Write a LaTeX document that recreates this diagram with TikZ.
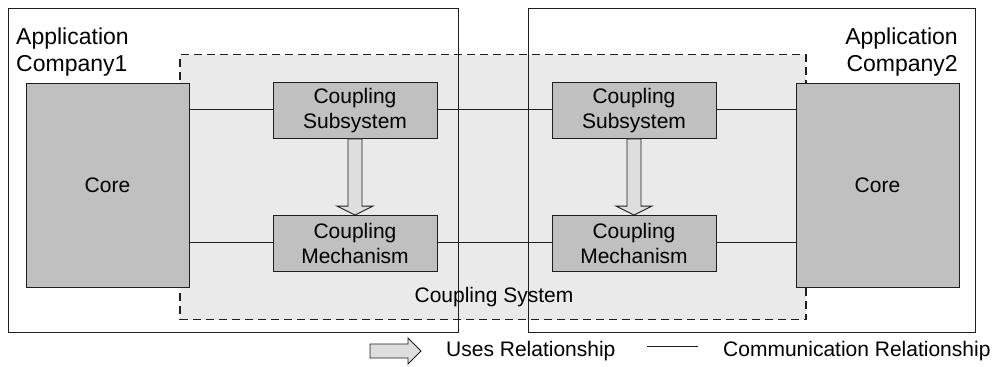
\documentclass[tikz,border=0pt]{standalone}
\usepackage{fontspec}
\setmainfont{Liberation Sans}
\usetikzlibrary{calc}
\definecolor{coregray}{RGB}{192,192,192}
\definecolor{sysgray}{RGB}{234,234,234}
\definecolor{arrgray}{RGB}{222,222,222}
\definecolor{linec}{RGB}{30,30,30}
\tikzset{
  appbox/.style={draw=linec,line width=0.9pt,minimum width=#1,inner sep=0pt},
  sysbox/.style={draw=linec,fill=sysgray,line width=1.1pt,dash pattern=on 8pt off 5pt},
  corebox/.style={draw=linec,fill=coregray,line width=0.9pt,minimum width=163pt,minimum height=204pt,inner sep=0pt,font=\fontsize{21}{25}\selectfont},
  cbox/.style={draw=linec,fill=coregray,line width=0.9pt,minimum width=164pt,minimum height=56pt,inner sep=0pt,align=center,font=\fontsize{21}{25}\selectfont},
  comm/.style={draw=linec,line width=0.9pt},
  usesarrow/.style={draw=linec,fill=arrgray,line width=0.9pt,line join=miter},
  lbl/.style={inner sep=0pt,font=\fontsize{21}{27}\selectfont},
  applbl/.style={inner sep=0pt,font=\fontsize{23}{27}\selectfont}
}
\begin{document}
\begin{tikzpicture}[x=1pt,y=-1pt]
\useasboundingbox (0,0) rectangle (994,367);
% coupling system (dashed)
\node[sysbox,minimum width=626pt,minimum height=265pt,inner sep=0pt] (sys) at (493,187) {};
% application boxes
\node[appbox=450pt,minimum height=324pt] (app1) at (233,170) {};
\node[appbox=447pt,minimum height=324pt] (app2) at (751.5,170) {};
% labels
\node[applbl,anchor=north west,align=left] (lapp1) at (16,27.5) {Application\\Company1};
\node[applbl,anchor=north east,align=right] (lapp2) at (958,27.5) {Application\\Company2};
\node[lbl,anchor=base] (lsys) at (494,302) {Coupling System};
% cores
\node[corebox] (core1) at (107.5,185) {Core};
\node[corebox] (core2) at (877.5,185) {Core};
% coupling boxes
\node[cbox] (sub1) at (355,110.5) {Coupling\\Subsystem};
\node[cbox] (mech1) at (355,243.5) {Coupling\\Mechanism};
\node[cbox] (sub2) at (634,110.5) {Coupling\\Subsystem};
\node[cbox] (mech2) at (634,243.5) {Coupling\\Mechanism};
% communication lines
\draw[comm] (core1.east |- 0,109) coordinate (c1a) -- (sub1.west |- c1a);
\draw[comm] (sub1.east |- c1a) -- (sub2.west |- c1a);
\draw[comm] (sub2.east |- c1a) -- (core2.west |- c1a);
\draw[comm] (core1.east |- 0,242) coordinate (c1b) -- (mech1.west |- c1b);
\draw[comm] (mech1.east |- c1b) -- (mech2.west |- c1b);
\draw[comm] (mech2.east |- c1b) -- (core2.west |- c1b);
% uses arrows
\foreach \s/\m in {sub1/mech1,sub2/mech2}{
  \draw[usesarrow] ($(\s.south)+(-7,0)$) -- ($(\m.north)+(-7,-9)$) -- ($(\m.north)+(-18,-9)$) -- (\m.north) -- ($(\m.north)+(18,-9)$) -- ($(\m.north)+(7,-9)$) -- ($(\s.south)+(7,0)$) -- cycle;
}
% legend
\coordinate (la) at (370,351);
\draw[usesarrow] ($(la)+(0,-7)$) -- ($(la)+(38,-7)$) -- ($(la)+(38,-13)$) -- ($(la)+(51,0)$) -- ($(la)+(38,13)$) -- ($(la)+(38,7)$) -- ($(la)+(0,7)$) -- cycle;
\node[lbl,anchor=west] (luses) at (446,351) {Uses Relationship};
\coordinate (lc1) at (647,346);
\coordinate (lc2) at (698,346);
\draw[comm] (lc1) -- (lc2);
\node[lbl,anchor=west] (lcomm) at (723,351) {Communication Relationship};
\end{tikzpicture}
\end{document}
